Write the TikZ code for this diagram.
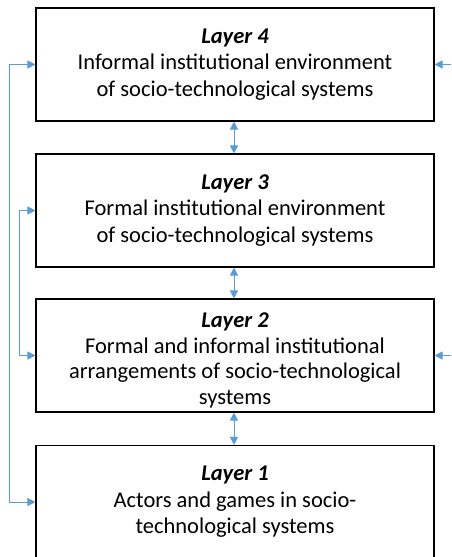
\documentclass[tikz,border=0pt]{standalone}
\usepackage{fontspec}
\setmainfont{Carlito}
\usetikzlibrary{arrows.meta}
\definecolor{linkblue}{HTML}{5B9BD5}
\tikzset{
  layerbox/.style={draw=black, line width=1.1pt, minimum width=398pt, minimum height=113pt},
  layertext/.style={align=center, inner sep=0pt, font=\fontsize{22.5}{26.5}\selectfont},
  link/.style={draw=linkblue, line width=0.9pt, -{Triangle[length=8pt,width=8pt]}},
  dlink/.style={draw=linkblue, line width=0.9pt, {Triangle[length=8pt,width=8pt]}-{Triangle[length=8pt,width=8pt]}}
}
\newcommand{\layertitle}[1]{{\bfseries\itshape #1}}
\begin{document}
\begin{tikzpicture}[x=1pt,y=-1pt]
\useasboundingbox (0,0) rectangle (451,557);
\clip (0,0) rectangle (451,557);
\fill[white] (0,0) rectangle (451,557);

% the four layers
\node[layerbox] (b4) at (235,64.5) {};
\node[layerbox] (b3) at (235,210.5) {};
\node[layerbox] (b2) at (235,355.5) {};
\node[layerbox] (b1) at (235,502) {};

\node[layertext] (t4) at (b4.center) {\layertitle{Layer 4}\\Informal institutional environment\\of socio-technological systems};
\node[layertext] (t3) at (b3.center) {\layertitle{Layer 3}\\Formal institutional environment\\of socio-technological systems};
\node[layertext, font=\fontsize{22.5}{25.5}\selectfont] (t2) at ([yshift=-5pt]b2.center) {\layertitle{Layer 2}\\Formal and informal institutional\\arrangements of socio-technological\\systems};
\node[layertext] (t1) at (b1.center) {\layertitle{Layer 1}\\Actors and games in socio-\\technological systems};

% links between neighbouring layers
\draw[dlink] ([xshift=-1pt]b4.south) -- ([xshift=-1pt]b3.north);
\draw[dlink] ([xshift=-1pt]b3.south) -- ([xshift=-1pt]b2.north);
\draw[dlink] ([xshift=-1pt]b2.south) -- ([xshift=-1pt]b1.north);

% feedback loops on the left
\draw[dlink] (b1.west) -- ++(-26,0) |- (b4.west);
\draw[dlink] (b2.west) -- ++(-16,0) |- (b3.west);

% inputs from the right
\coordinate (in4) at (452,64.5);
\coordinate (in2) at (452,355.5);
\draw[link] (in4) -- (b4.east);
\draw[link] (in2) -- (b2.east);
\end{tikzpicture}
\end{document}
